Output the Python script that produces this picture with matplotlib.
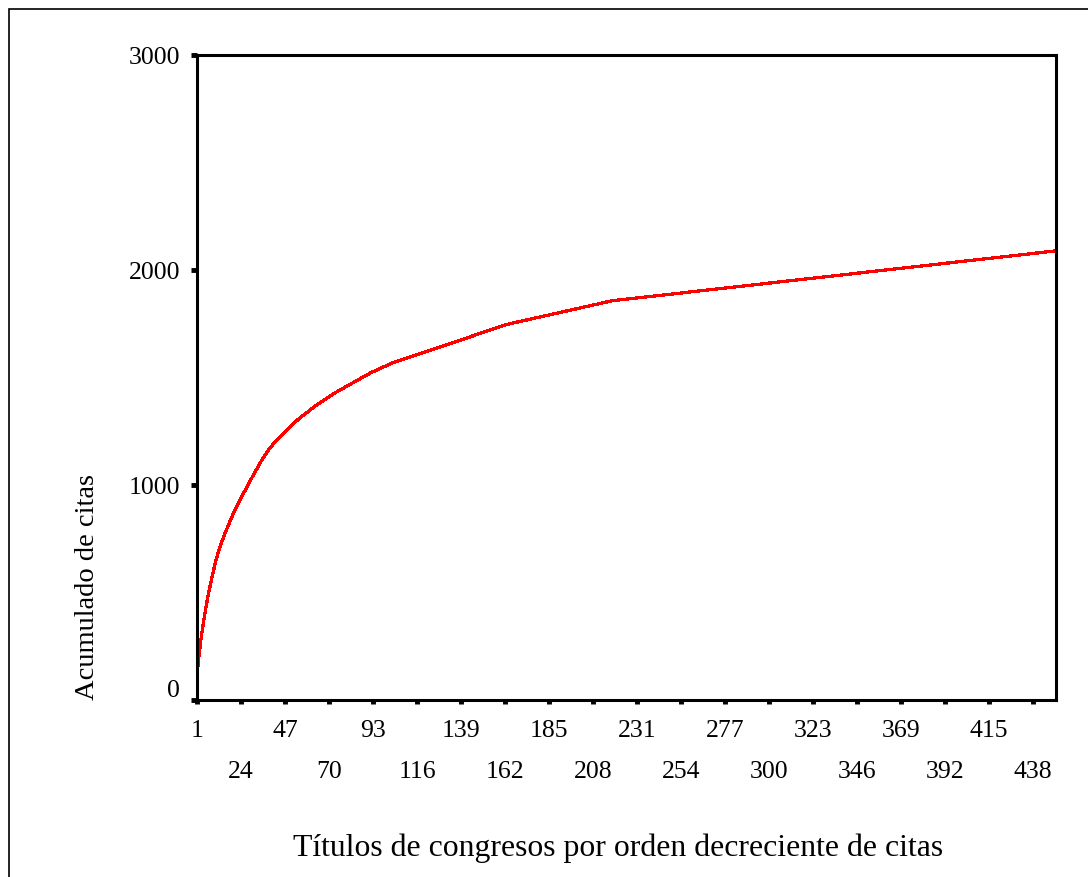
import numpy as np
import matplotlib
matplotlib.use("Agg")
import matplotlib.pyplot as plt
from matplotlib.patches import Rectangle
from matplotlib.transforms import ScaledTranslation

# Citations received by the most-cited conference titles (one value per title)
citas_top = [111, 92, 75, 62, 56, 52,
             46, 43, 41, 39, 37,
             29, 27, 26, 24, 23, 22, 21, 21, 20, 19, 18, 18, 17, 17,
             17, 17, 17, 16, 16, 16, 16, 16, 16, 15,
             14, 13, 13, 12, 11, 11, 10, 10, 9, 9, 9, 9]
# Remaining titles grouped by number of citations
citas_nivel = [9, 8, 7, 6, 5, 4, 3, 2, 1]
titulos_nivel = [2, 5, 8, 11, 19, 11, 60, 55, 232]

y_ticks = [0, 1000, 2000, 3000]
x_step = 23

citas = np.concatenate([citas_top, np.repeat(citas_nivel, titulos_nivel)])
acumulado = np.cumsum(citas)
n = len(citas)
rango = np.arange(1, n + 1)

plt.rcParams["font.family"] = ["Liberation Serif", "DejaVu Serif"]

W, H = 1088, 878
fig = plt.figure(figsize=(W / 100, H / 100), dpi=100)

# outer frame
fig.patches.append(Rectangle((9 / W, -0.01), 1.02, 1 - 10 / H + 0.01,
                             transform=fig.transFigure, fill=False,
                             edgecolor="black", linewidth=1.2))

ax = fig.add_axes([197 / W, 1 - 701 / H, (1056 - 197) / W, (701 - 56) / H])
ax.plot(rango, acumulado, color="#ff0000", linewidth=1.6, antialiased=False)

ax.set_xlim(1, n)
ax.set_ylim(0, 3000)
for s in ax.spines.values():
    s.set_linewidth(2.2)

ax.set_yticks(y_ticks)
ax.set_yticklabels([str(v) for v in y_ticks])
ax.tick_params(axis="y", direction="out", length=4, width=3.5, pad=8,
               labelsize=18.5)
lbl0 = ax.get_yticklabels()[0]
lbl0.set_transform(lbl0.get_transform()
                   + ScaledTranslation(0, 9 / 72, fig.dpi_scale_trans))

pos = np.arange(1, n + 1, x_step)
fila1 = pos[0::2]
fila2 = pos[1::2]
ax.set_xticks(fila1)
ax.set_xticklabels([str(v) for v in fila1])
ax.set_xticks(fila2, minor=True)
ax.set_xticklabels([str(v) for v in fila2], minor=True)
ax.tick_params(axis="x", which="major", direction="out", length=3,
               width=3.5, pad=11, labelsize=18.5)
ax.tick_params(axis="x", which="minor", direction="out", length=3,
               width=3.5, pad=40, labelsize=18.5)

fig.text(88 / W, 1 - 587 / H, "Acumulado de citas", rotation=90,
         ha="center", va="center", fontsize=20.5)
fig.text(618 / W, 1 - 848 / H,
         "Títulos de congresos por orden decreciente de citas",
         ha="center", va="center", fontsize=22.9)

fig.savefig("out.png", dpi=100)
